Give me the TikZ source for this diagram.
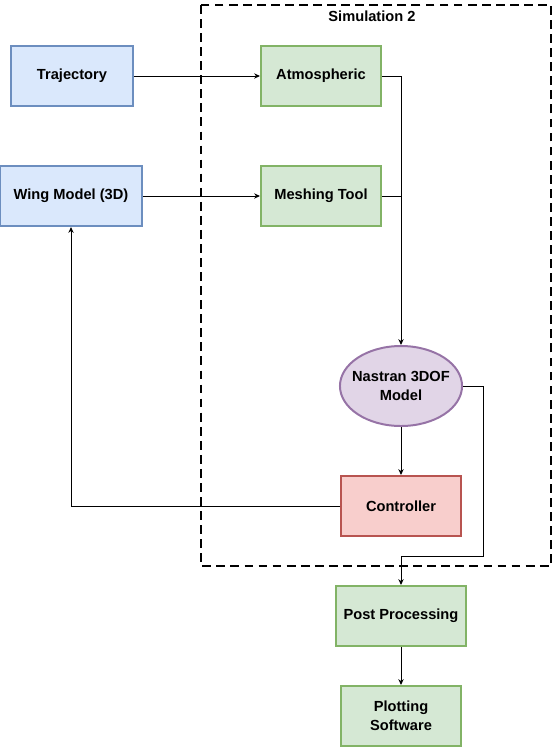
\documentclass[tikz,border=0pt]{standalone}
\usepackage{fontspec}
\setmainfont{Liberation Sans}
\usetikzlibrary{arrows.meta,shapes.geometric}

\definecolor{blueF}{HTML}{DAE8FC}\definecolor{blueD}{HTML}{6C8EBF}
\definecolor{greenF}{HTML}{D5E8D4}\definecolor{greenD}{HTML}{82B366}
\definecolor{purpF}{HTML}{E1D5E7}\definecolor{purpD}{HTML}{9673A6}
\definecolor{redF}{HTML}{F8CECC}\definecolor{redD}{HTML}{B85450}

\begin{document}
\begin{tikzpicture}[x=0.03cm,y=-0.03cm,
  box/.style={draw, line width=1.7pt, minimum width=3.6cm, minimum height=1.8cm,
    align=center, inner sep=1pt, font=\fontsize{12.5}{16}\selectfont\bfseries},
  bluebox/.style={box, draw=blueD, fill=blueF},
  greenbox/.style={box, draw=greenD, fill=greenF},
  redbox/.style={box, draw=redD, fill=redF},
  link/.style={line width=0.85pt, -{Stealth[length=5pt,width=4.5pt]}}]
  \useasboundingbox (0,0) rectangle (553,747);

  % simulation frame
  \draw[line width=2.5pt, dash pattern=on 7.5pt off 4.5pt] (201,5) rectangle (551,566);
  \node[font=\fontsize{12.5}{15}\selectfont\bfseries] (simlabel) at (372,16) {Simulation 2};

  \node[bluebox, minimum width=3.66cm] (traj) at (72,76) {Trajectory};
  \node[greenbox] (atmos) at (321,76) {Atmospheric};
  \node[bluebox, minimum width=4.26cm] (wing) at (71,196) {Wing Model (3D)};
  \node[greenbox] (mesh) at (321,196) {Meshing Tool};
  \node[box, ellipse, draw=purpD, fill=purpF, minimum width=3.6cm, minimum height=2.4cm,
    inner xsep=-0.17cm, inner ysep=0pt] (nastran) at (401,386) {Nastran 3DOF\\Model};
  \node[redbox] (ctrl) at (401,506) {Controller};
  \node[greenbox, minimum width=3.9cm] (post) at (401,616) {Post Processing};
  \node[greenbox] (plot) at (401,716) {Plotting\\Software};

  \coordinate (join) at (401,196);
  \coordinate (drop) at (483,556);

  \draw[link] (traj) -- (atmos);
  \draw[link] (wing) -- (mesh);
  \draw[link] (atmos.east) -| (nastran.north);
  \draw[line width=0.85pt] (mesh.east) -- (join);
  \draw[link] (nastran) -- (ctrl);
  \draw[link] (ctrl.west) -| (wing.south);
  \draw[link] (nastran.east) -| (drop) -| (post.north);
  \draw[link] (post) -- (plot);
\end{tikzpicture}
\end{document}
